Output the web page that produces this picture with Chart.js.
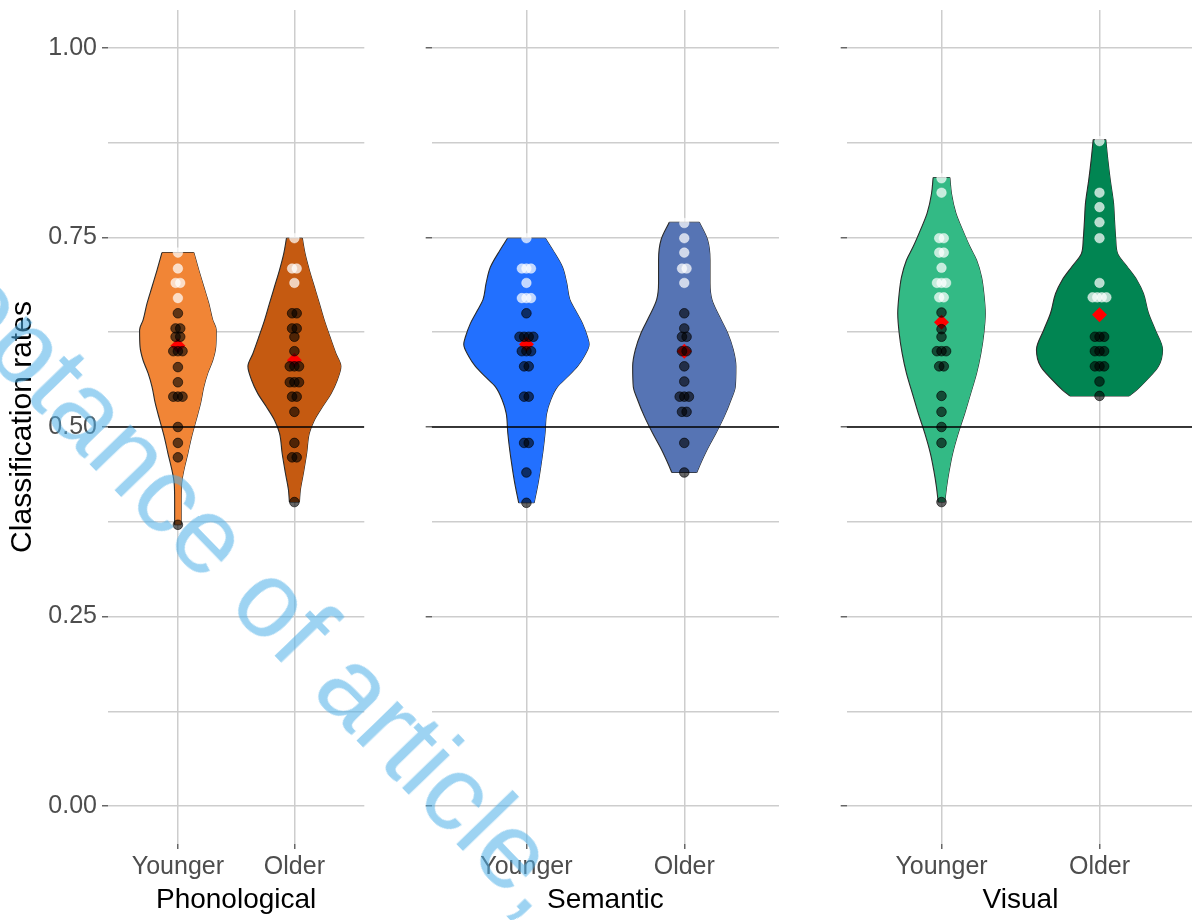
<!DOCTYPE html>
<html lang="en">
<head>
<meta charset="utf-8">
<title>Classification rates by task and age group</title>
<script src="https://cdn.jsdelivr.net/npm/chart.js@4.4.1/dist/chart.umd.min.js"></script>
<style>
  html, body { margin: 0; padding: 0; background: #ffffff; }
  body { position: relative; width: 1192px; height: 920px; overflow: hidden; }
  canvas { position: absolute; top: 0; }
  #stamp {
    position: absolute; left: -187.2px; top: 86.8px;
    transform-origin: 0 91.4px; transform: rotate(46deg);
    font-family: "Liberation Sans", Arial, sans-serif; font-size: 108px; line-height: 108px;
    white-space: nowrap; color: rgba(77, 175, 231, 0.55); pointer-events: none;
  }
</style>
</head>
<body>
<canvas id="panel0" width="397" height="920" style="left:0px"></canvas>
<canvas id="panel1" width="413" height="920" style="left:397px"></canvas>
<canvas id="panel2" width="400" height="920" style="left:810px"></canvas>
<div id="stamp">Acceptance of article, </div>
<script>
// ---- categories and axis ticks ----
const panelTitles = ['Phonological', 'Semantic', 'Visual'];
const ageGroups = ['Younger', 'Older'];
const yMajorTicks = [0, 0.25, 0.5, 0.75, 1];
const yMinorTicks = [0.125, 0.375, 0.625, 0.875];
const chanceRate = 0.5;
const lightAbove = 0.66;   // rates above this are drawn as light dots

// ---- individual classification rates ----
const phonYoungerRates = [0.730, 0.709, 0.690, 0.690, 0.670, 0.650, 0.630, 0.630, 0.619, 0.619,
  0.600, 0.600, 0.600, 0.579, 0.559, 0.540, 0.540, 0.540, 0.500, 0.479, 0.460, 0.371];
const phonOlderRates = [0.749, 0.709, 0.709, 0.690, 0.650, 0.650, 0.630, 0.630, 0.619, 0.600,
  0.580, 0.580, 0.580, 0.559, 0.559, 0.559, 0.540, 0.540, 0.520, 0.479, 0.460, 0.460, 0.401];
const semYoungerRates = [0.749, 0.709, 0.709, 0.709, 0.690, 0.670, 0.670, 0.670, 0.650, 0.619,
  0.619, 0.619, 0.619, 0.600, 0.600, 0.600, 0.580, 0.580, 0.540, 0.540, 0.479, 0.479, 0.440, 0.400];
const semOlderRates = [0.769, 0.749, 0.730, 0.709, 0.709, 0.690, 0.650, 0.630, 0.619, 0.619,
  0.600, 0.600, 0.580, 0.560, 0.540, 0.540, 0.540, 0.520, 0.520, 0.479, 0.440];
const visYoungerRates = [0.828, 0.809, 0.749, 0.749, 0.730, 0.730, 0.710, 0.690, 0.690, 0.690,
  0.671, 0.671, 0.651, 0.629, 0.619, 0.600, 0.600, 0.600, 0.580, 0.580, 0.541, 0.520, 0.500, 0.479, 0.401];
const visOlderRates = [0.877, 0.809, 0.790, 0.770, 0.749, 0.690, 0.671, 0.671, 0.671, 0.671,
  0.619, 0.619, 0.619, 0.600, 0.600, 0.600, 0.580, 0.580, 0.580, 0.560, 0.541];

// ---- group means (Younger, Older) ----
const phonMeans = [0.607, 0.588];
const semMeans = [0.609, 0.600];
const visMeans = [0.638, 0.648];

// ---- violin density profiles: rate levels (low to high) and half-widths in category units ----
const phonYoungerLevels = [0.371, 0.404, 0.426, 0.443, 0.465, 0.487, 0.509, 0.531, 0.553, 0.571, 0.588, 0.606, 0.628, 0.641, 0.663, 0.685, 0.707, 0.730];
const phonYoungerWidths = [0.028, 0.028, 0.032, 0.051, 0.085, 0.117, 0.156, 0.194, 0.222, 0.256, 0.299, 0.325, 0.329, 0.299, 0.265, 0.222, 0.179, 0.137];
const phonOlderLevels = [0.401, 0.417, 0.439, 0.465, 0.492, 0.509, 0.527, 0.544, 0.562, 0.580, 0.597, 0.619, 0.641, 0.663, 0.685, 0.707, 0.729, 0.749];
const phonOlderWidths = [0.043, 0.051, 0.077, 0.105, 0.128, 0.171, 0.242, 0.314, 0.368, 0.399, 0.356, 0.305, 0.256, 0.214, 0.171, 0.128, 0.091, 0.068];
const semYoungerLevels = [0.400, 0.426, 0.448, 0.470, 0.492, 0.518, 0.536, 0.553, 0.566, 0.580, 0.593, 0.609, 0.619, 0.637, 0.654, 0.668, 0.690, 0.711, 0.734, 0.749];
const semYoungerWidths = [0.049, 0.074, 0.091, 0.106, 0.118, 0.128, 0.154, 0.196, 0.259, 0.323, 0.365, 0.397, 0.386, 0.354, 0.310, 0.275, 0.255, 0.228, 0.165, 0.120];
const semOlderLevels = [0.440, 0.448, 0.470, 0.492, 0.514, 0.536, 0.553, 0.580, 0.602, 0.624, 0.646, 0.668, 0.690, 0.720, 0.747, 0.770];
const semOlderWidths = [0.079, 0.095, 0.144, 0.201, 0.253, 0.296, 0.323, 0.327, 0.310, 0.274, 0.222, 0.175, 0.163, 0.163, 0.147, 0.095];
const visYoungerLevels = [0.401, 0.421, 0.443, 0.465, 0.492, 0.518, 0.544, 0.571, 0.597, 0.624, 0.650, 0.676, 0.698, 0.720, 0.738, 0.760, 0.782, 0.808, 0.829];
const visYoungerWidths = [0.021, 0.032, 0.049, 0.070, 0.106, 0.147, 0.184, 0.222, 0.249, 0.268, 0.277, 0.268, 0.253, 0.222, 0.179, 0.133, 0.091, 0.063, 0.053];
const visOlderLevels = [0.541, 0.549, 0.562, 0.580, 0.602, 0.628, 0.650, 0.676, 0.694, 0.712, 0.729, 0.747, 0.773, 0.795, 0.826, 0.852, 0.879];
const visOlderWidths = [0.188, 0.236, 0.299, 0.373, 0.399, 0.353, 0.310, 0.278, 0.236, 0.173, 0.114, 0.103, 0.095, 0.089, 0.068, 0.053, 0.040];

// ---- styling ----
const violinFills = [['#F18536', '#C55A11'], ['#2270FF', '#5674B4'], ['#33BA85', '#018552']];
const OUTLINE = '#2b2b2b';
const GRID = '#cdcdcd';
const TICK = '#666666';
const DOT_DARK = 'rgba(0, 0, 0, 0.6)';
const DOT_DARK_EDGE = 'rgba(0, 0, 0, 0.75)';
const DOT_LIGHT = 'rgba(255, 255, 255, 0.72)';
const DOT_LIGHT_EDGE = 'rgba(255, 255, 255, 0.5)';
const DOT_STEP_PX = 4.6;

const panels = [
  { rates: [phonYoungerRates, phonOlderRates], means: phonMeans,
    levels: [phonYoungerLevels, phonOlderLevels], widths: [phonYoungerWidths, phonOlderWidths] },
  { rates: [semYoungerRates, semOlderRates], means: semMeans,
    levels: [semYoungerLevels, semOlderLevels], widths: [semYoungerWidths, semOlderWidths] },
  { rates: [visYoungerRates, visOlderRates], means: visMeans,
    levels: [visYoungerLevels, visOlderLevels], widths: [visYoungerWidths, visOlderWidths] },
];

// plot-area geometry of each canvas
const frames = [
  { yAxisWidth: 108, padRight: 32.7, yLabels: true },
  { yAxisWidth: 34.7, padRight: 31, yLabels: false },
  { yAxisWidth: 36.7, padRight: 15.7, yLabels: false },
];

Chart.defaults.font.family = '"Liberation Sans", Arial, sans-serif';

function violinDatasets(levels, widths, centre, colour) {
  const left = levels.map((y, i) => ({ x: centre - widths[i], y }));
  const right = levels.map((y, i) => ({ x: centre + widths[i], y }));
  const last = levels.length - 1;
  const edge = {
    showLine: true, indexAxis: 'y', cubicInterpolationMode: 'monotone',
    pointRadius: 0, borderColor: OUTLINE, borderWidth: 1.1, order: 4
  };
  const cap = { showLine: true, pointRadius: 0, borderColor: OUTLINE, borderWidth: 1.1, order: 4, fill: false };
  return [
    Object.assign({}, edge, { data: left, fill: '+1', backgroundColor: colour }),
    Object.assign({}, edge, { data: right, fill: false }),
    Object.assign({}, cap, { data: [left[0], right[0]] }),
    Object.assign({}, cap, { data: [left[last], right[last]] }),
  ];
}

function buildChart(p) {
  const panel = panels[p];
  const frame = frames[p];
  const datasets = [];

  ageGroups.forEach((g, gi) => {
    datasets.push(...violinDatasets(panel.levels[gi], panel.widths[gi], gi + 1, violinFills[p][gi]));
  });

  datasets.push({
    data: [{ x: 0.4, y: chanceRate }, { x: 2.6, y: chanceRate }],
    showLine: true, pointRadius: 0, borderColor: '#000000', borderWidth: 1.4, order: 2
  });

  ageGroups.forEach((g, gi) => {
    datasets.push({
      data: [{ x: gi + 1, y: panel.means[gi] }],
      pointStyle: 'rectRot', pointRadius: 7.5, backgroundColor: '#ff0000',
      borderWidth: 0, order: 1
    });
    datasets.push({
      rates: panel.rates[gi], centre: gi + 1,
      data: panel.rates[gi].map(v => ({ x: gi + 1, y: v })),
      pointRadius: 4.8, borderWidth: 0.8,
      backgroundColor: c => (c.raw && c.raw.y > lightAbove) ? DOT_LIGHT : DOT_DARK,
      borderColor: c => (c.raw && c.raw.y > lightAbove) ? DOT_LIGHT_EDGE : DOT_DARK_EDGE,
      order: 0
    });
  });

  const allYTicks = yMajorTicks.concat(yMinorTicks).sort((a, b) => a - b);

  const chart = new Chart(document.getElementById('panel' + p), {
    type: 'scatter',
    data: { datasets },
    options: {
      responsive: false, animation: false, devicePixelRatio: 1, events: [],
      layout: { padding: { top: 10, right: frame.padRight, bottom: 0, left: 0 } },
      plugins: { legend: { display: false }, tooltip: { enabled: false } },
      scales: {
        x: {
          type: 'linear', min: 0.4, max: 2.6,
          afterBuildTicks: s => { s.ticks = ageGroups.map((_, i) => ({ value: i + 1 })); },
          afterFit: s => { s.height = 76; s.paddingLeft = 0; s.paddingRight = 0; },
          border: { display: false },
          grid: { color: GRID, lineWidth: 1.5, tickLength: 5, tickColor: TICK, tickWidth: 1.5 },
          ticks: {
            autoSkip: false, maxRotation: 0, padding: 3, color: '#4d4d4d',
            font: { size: 25 }, callback: v => ageGroups[v - 1]
          },
          title: {
            display: true, text: panelTitles[p], color: '#000000',
            font: { size: 28 }, padding: { top: 0, bottom: 3 }
          }
        },
        y: {
          type: 'linear', min: -0.05, max: 1.05,
          afterBuildTicks: s => { s.ticks = allYTicks.map(v => ({ value: v })); },
          afterFit: s => { s.width = frame.yAxisWidth; s.paddingTop = 0; s.paddingBottom = 0; },
          border: { display: false },
          grid: {
            color: GRID, lineWidth: 1.5, tickLength: 6, tickWidth: 1.5,
            tickColor: c => (c.tick && yMajorTicks.includes(c.tick.value)) ? TICK : 'rgba(0,0,0,0)'
          },
          ticks: {
            autoSkip: false, padding: 5, color: '#4d4d4d', font: { size: 25 },
            callback: v => (frame.yLabels && yMajorTicks.includes(v)) ? v.toFixed(2) : ''
          },
          title: {
            display: frame.yLabels, text: 'Classification rates', color: '#000000',
            font: { size: 30 }, padding: { top: 5, bottom: 0 }
          }
        }
      }
    }
  });

  // stack tied rates side by side, centred on their group
  const xs = chart.scales.x;
  const pxPerUnit = xs.getPixelForValue(1) - xs.getPixelForValue(0);
  const step = DOT_STEP_PX / pxPerUnit;
  chart.data.datasets.forEach(ds => {
    if (!ds.rates) return;
    const counts = {};
    ds.rates.forEach(v => { counts[v] = (counts[v] || 0) + 1; });
    const seen = {};
    ds.data = ds.rates.map(v => {
      seen[v] = (seen[v] === undefined) ? 0 : seen[v] + 1;
      return { x: ds.centre + (seen[v] - (counts[v] - 1) / 2) * step, y: v };
    });
  });
  chart.update('none');
  return chart;
}

panels.forEach((_, p) => buildChart(p));
</script>
</body>
</html>
